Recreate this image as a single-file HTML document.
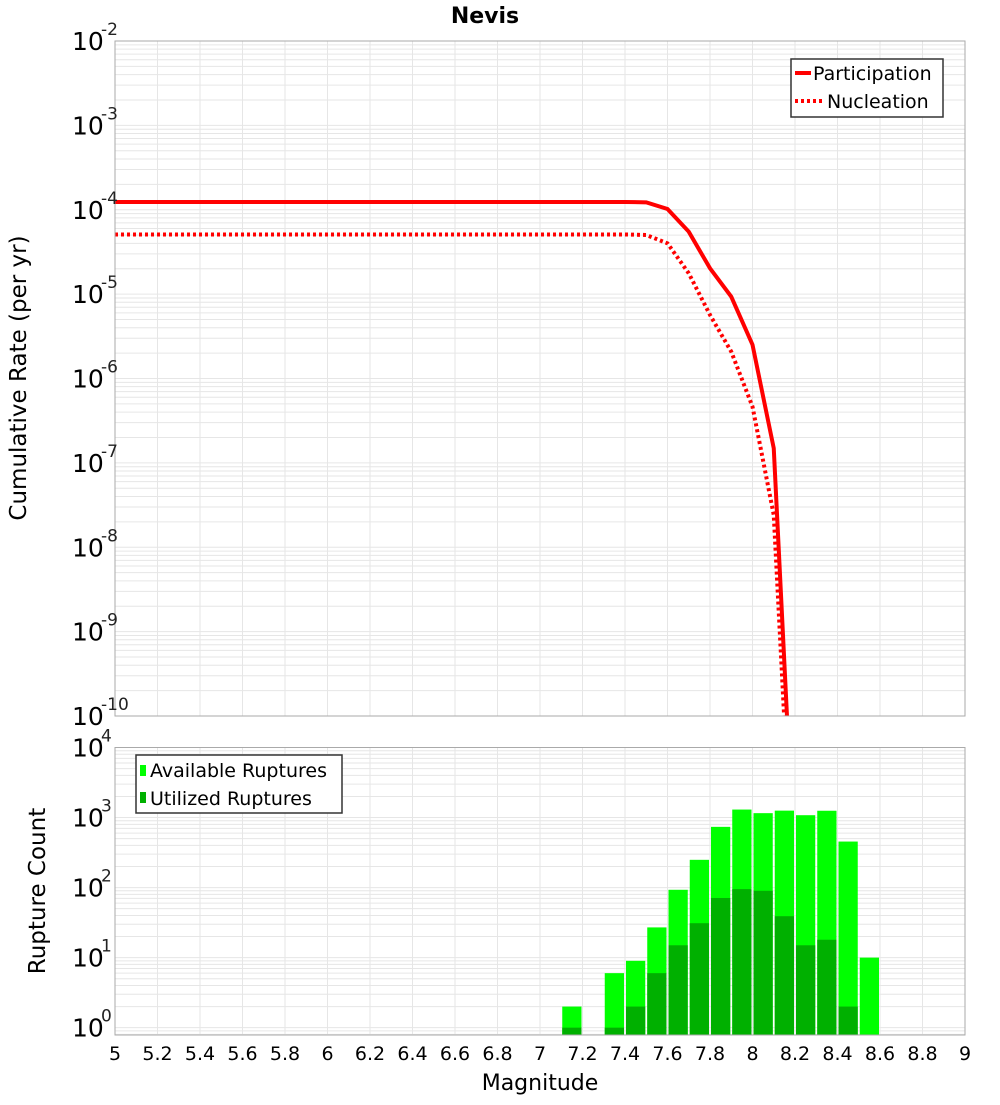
<!DOCTYPE html>
<html><head><meta charset="utf-8"><style>
body{margin:0;background:#fff;}
svg text{font-family:"DejaVu Sans","Liberation Sans",sans-serif;}
</style></head><body>
<svg id="c" width="1000" height="1100" xmlns="http://www.w3.org/2000/svg"></svg>
<script>
const mags = [5.0,5.1,5.2,5.3,5.4,5.5,5.6,5.7,5.8,5.9,6.0,6.1,6.2,6.3,6.4,6.5,6.6,6.7,6.8,6.9,7.0,7.1,7.2,7.3,7.4,7.5,7.6,7.7,7.8,7.9,8.0,8.1,8.2];
const partLog = [-3.908,-3.908,-3.908,-3.908,-3.908,-3.908,-3.908,-3.908,-3.908,-3.908,-3.908,-3.908,-3.908,-3.908,-3.908,-3.908,-3.908,-3.908,-3.908,-3.908,-3.908,-3.908,-3.908,-3.908,-3.908,-3.912,-3.991,-4.26,-4.694,-5.03,-5.60,-6.827,-11.92];
const nuclLog = [-4.293,-4.293,-4.293,-4.293,-4.293,-4.293,-4.293,-4.293,-4.293,-4.293,-4.293,-4.293,-4.293,-4.293,-4.293,-4.293,-4.293,-4.293,-4.293,-4.293,-4.293,-4.293,-4.293,-4.293,-4.293,-4.299,-4.398,-4.753,-5.247,-5.682,-6.334,-7.618,-12.5];
const binCenters = [7.15,7.35,7.45,7.55,7.65,7.75,7.85,7.95,8.05,8.15,8.25,8.35,8.45,8.55];
const available = [2,6,9,27,93,249,736,1300,1155,1255,1080,1250,454,10];
const utilized = [1,1,2,6,15,31,71,95,90,39,15,18,2,0];
const xTicks = ["5","5.2","5.4","5.6","5.8","6","6.2","6.4","6.6","6.8","7","7.2","7.4","7.6","7.8","8","8.2","8.4","8.6","8.8","9"];
const topExps = [-2,-3,-4,-5,-6,-7,-8,-9,-10];
const botExps = [4,3,2,1,0];

const NS="http://www.w3.org/2000/svg";
const svg=document.getElementById('c');
function el(t,a,p){const e=document.createElementNS(NS,t);for(const k in a)e.setAttribute(k,a[k]);(p||svg).appendChild(e);return e;}
const X0=115,X1=965;
const xs=m=>X0+(m-5)/4*(X1-X0);
const T0=41,T1=716; const ysT=l=>T0+(-2-l)/8*(T1-T0);
const B0=747.5,B1=1035; const BMIN=-0.105,BMAX=4; const ysB=v=>B1-(Math.log10(v)-BMIN)/(BMAX-BMIN)*(B1-B0);

el('rect',{x:0,y:0,width:1000,height:1100,fill:'#fff'});
const tt=el('text',{x:485,y:23,'font-size':22,'font-weight':'bold','text-anchor':'middle'});tt.textContent='Nevis';


function grid(y0,y1,lo,hi,ysf){
  const g=el('g',{stroke:'#e6e6e6','stroke-width':1});
  for(let i=0;i<xTicks.length;i++){const x=xs(5+i*0.2);el('line',{x1:x,x2:x,y1:y0,y2:y1},g);}
  for(let d=Math.floor(lo);d<hi;d++)for(let k=1;k<10;k++){const l=d+Math.log10(k);if(l<lo||l>hi)continue;const y=ysf(l);el('line',{x1:X0,x2:X1,y1:y,y2:y},g);}
  return g;
}
const gT=grid(T0,T1,-10,-2,ysT);
const gB=grid(B0,B1,BMIN,BMAX,l=>ysB(Math.pow(10,l)));

const defs=el('defs',{});const cp=el('clipPath',{id:'ct'},defs);el('rect',{x:X0,y:T0,width:X1-X0,height:T1-T0},cp);
function line(arr,dash,name){
  const p=el('polyline',{points:mags.map((m,i)=>xs(m)+','+ysT(arr[i])).join(' '),fill:'none',stroke:'#f00','stroke-width':4,'clip-path':'url(#ct)'});
  if(dash)p.setAttribute('stroke-dasharray',dash);
  
}
line(partLog,null,'participation-line');
line(nuclLog,'3,3','nucleation-line');
el('rect',{x:X0,y:T0,width:X1-X0,height:T1-T0,fill:'none',stroke:'#aaa'});

const bw=(xs(5.1)-xs(5))-2;
binCenters.forEach((c,i)=>{
  const x=xs(c)-bw/2;
  const a=el('rect',{x:x,y:ysB(available[i]),width:bw,height:B1-ysB(available[i]),fill:'#00ff00'});
  
  if(utilized[i]>0){const u=el('rect',{x:x,y:ysB(utilized[i]),width:bw,height:B1-ysB(utilized[i]),fill:'#00b000'});
  }
});
el('rect',{x:X0,y:B0,width:X1-X0,height:B1-B0,fill:'none',stroke:'#aaa'});

function ylab(exp,y,name){
  const g=el('g',{});
  
  const b=el('text',{x:72,y:y+9,'font-size':25},g);b.textContent='10';
  const s=el('text',{x:101,y:y-6,'font-size':17,fill:'#222'},g);s.textContent=exp;
}
topExps.forEach(e=>ylab(e,ysT(e),'top-y-tick'));
botExps.forEach(e=>ylab(e,ysB(Math.pow(10,e)),'bottom-y-tick'));
xTicks.forEach((s,i)=>{const t=el('text',{x:xs(5+i*0.2),y:1060,'font-size':19,'text-anchor':'middle'});t.textContent=s;
  });
let t=el('text',{x:540,y:1090,'font-size':22,'text-anchor':'middle'});t.textContent='Magnitude';

t=el('text',{x:0,y:0,'font-size':23,'text-anchor':'middle',transform:'translate(26,378) rotate(-90)'});t.textContent='Cumulative Rate (per yr)';

t=el('text',{x:0,y:0,'font-size':23,'text-anchor':'middle',transform:'translate(45,891) rotate(-90)'});t.textContent='Rupture Count';


let lg=el('g',{});
el('rect',{x:791,y:59,width:152,height:58,fill:'#fff',stroke:'#333','stroke-width':1.5},lg);
el('line',{x1:795,x2:811,y1:73,y2:73,stroke:'#f00','stroke-width':4},lg);
el('line',{x1:795,x2:822,y1:101,y2:101,stroke:'#f00','stroke-width':4,'stroke-dasharray':'3,3'},lg);
t=el('text',{x:813,y:80,'font-size':19},lg);t.textContent='Participation';
t=el('text',{x:827,y:108,'font-size':19},lg);t.textContent='Nucleation';
lg=el('g',{});
el('rect',{x:136,y:755,width:206,height:58,fill:'#fff',stroke:'#333','stroke-width':1.5},lg);
el('rect',{x:140,y:765,width:6,height:11,fill:'#00ff00'},lg);
el('rect',{x:140,y:792,width:6,height:11,fill:'#00b000'},lg);
t=el('text',{x:150,y:777,'font-size':19},lg);t.textContent='Available Ruptures';
t=el('text',{x:150,y:805,'font-size':19},lg);t.textContent='Utilized Ruptures';
</script>
</body></html>
